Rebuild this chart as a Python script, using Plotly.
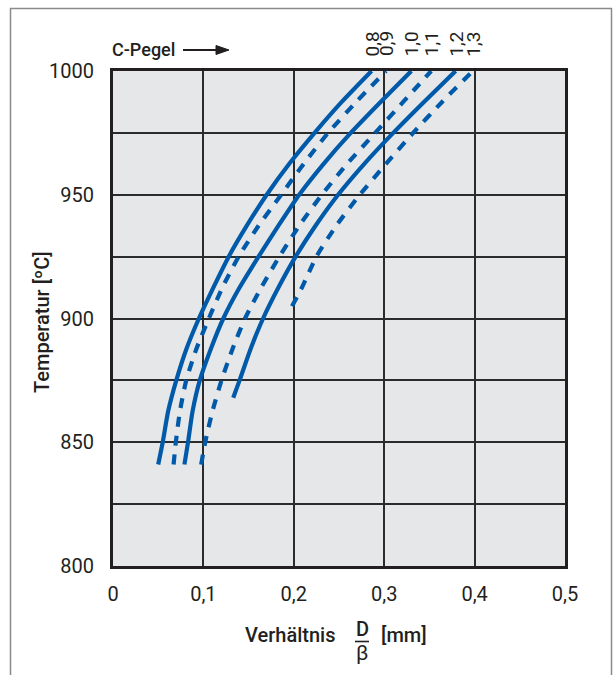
import plotly.graph_objects as go

# ---- data ----
c_levels = ["0,8", "0,9", "1,0", "1,1", "1,2", "1,3"]
dashed = [False, True, False, True, False, True]

temps_a = [841, 850, 862.5, 875, 887.5, 900, 912.5, 925, 937.5, 950, 962.5, 975, 987.5, 1000]
c08 = [0.050, 0.055, 0.061, 0.070, 0.081, 0.095, 0.111, 0.128, 0.148, 0.170, 0.195, 0.223, 0.253, 0.286]
c09 = [0.067, 0.0695, 0.074, 0.081, 0.092, 0.106, 0.121, 0.139, 0.161, 0.186, 0.211, 0.238, 0.269, 0.302]
c10 = [0.079, 0.083, 0.088, 0.096, 0.108, 0.122, 0.140, 0.161, 0.183, 0.206, 0.233, 0.263, 0.296, 0.330]
c11 = [0.0975, 0.102, 0.110, 0.120, 0.132, 0.146, 0.164, 0.184, 0.206, 0.231, 0.259, 0.290, 0.321, 0.352]
temps_12 = [868, 875, 887.5, 900, 912.5, 925, 937.5, 950, 962.5, 975, 987.5, 1000]
c12 = [0.133, 0.140, 0.152, 0.166, 0.183, 0.202, 0.224, 0.249, 0.278, 0.310, 0.344, 0.379]
temps_13 = [905, 912.5, 925, 937.5, 950, 962.5, 975, 987.5, 1000]
c13 = [0.198, 0.209, 0.225, 0.247, 0.273, 0.302, 0.332, 0.364, 0.398]

x_ticks = [0, 0.1, 0.2, 0.3, 0.4, 0.5]
x_ticktext = ["0", "0,1", "0,2", "0,3", "0,4", "0,5"]
y_ticks = [800, 825, 850, 875, 900, 925, 950, 975, 1000]
y_ticktext = ["800", "", "850", "", "900", "", "950", "", "1000"]

series_x = [c08, c09, c10, c11, c12, c13]
series_t = [temps_a, temps_a, temps_a, temps_a, temps_12, temps_13]

BLUE = "#005aa9"
INK = "#231f20"
FONT = "Roboto, Liberation Sans, sans-serif"
W, H = 614, 675
L, R, T, B = 113, 49, 71, 109
PW, PH = W - L - R, H - T - B


def px(x):
    return (x - L) / PW


def py(y):
    return (H - B - y) / PH


fig = go.Figure()
for xs, ts, d, lab in zip(series_x, series_t, dashed, c_levels):
    fig.add_trace(go.Scatter(
        x=xs, y=ts, mode="lines", name=lab,
        line=dict(color=BLUE, width=4.2, shape="spline", smoothing=0.6,
                  dash="10px,9px" if d else "solid"),
        hoverinfo="skip", showlegend=False,
    ))

title_font = dict(family=FONT, size=20, color=INK, weight=500)
annotations = []
# C-level labels above curve tops
for xs, lab in zip(series_x, c_levels):
    annotations.append(dict(
        x=xs[-1], y=py(44), xref="x", yref="paper", text=lab, textangle=-90,
        showarrow=False, font=dict(family=FONT, size=19, color=INK),
        xanchor="center", yanchor="middle"))

annotations += [
    dict(x=px(110), y=py(50), xref="paper", yref="paper", text="C-Pegel",
         showarrow=False, xanchor="left", yanchor="middle",
         font=dict(family=FONT, size=18, color=INK, weight=500)),
    dict(x=px(42), y=py(322), xref="paper", yref="paper", text="Temperatur [ºC]",
         textangle=-90, showarrow=False, xanchor="center", yanchor="middle",
         font=title_font),
    dict(x=px(337), y=py(635), xref="paper", yref="paper", text="Verhältnis",
         showarrow=False, xanchor="right", yanchor="middle", font=title_font),
    dict(x=px(362), y=py(629), xref="paper", yref="paper", text="D",
         showarrow=False, xanchor="center", yanchor="middle", font=title_font),
    dict(x=px(362), y=py(653), xref="paper", yref="paper", text="β",
         showarrow=False, xanchor="center", yanchor="middle",
         font=dict(family=FONT, size=21, color=INK)),
    dict(x=px(379), y=py(635), xref="paper", yref="paper", text="[mm]",
         showarrow=False, xanchor="left", yanchor="middle", font=title_font),
]

shapes = [
    # outer frame
    dict(type="rect", xref="paper", yref="paper", x0=px(10.5), x1=px(611.5),
         y0=py(690), y1=py(8.5), line=dict(color="#8a8a8a", width=1.5), layer="below"),
    # arrow after C-Pegel
    dict(type="line", xref="paper", yref="paper", x0=px(183), x1=px(218),
         y0=py(50), y1=py(50), line=dict(color=INK, width=2)),
    dict(type="path", xref="paper", yref="paper",
         path=f"M {px(216)} {py(45.5)} L {px(229)} {py(50)} L {px(216)} {py(54.5)} Z",
         fillcolor=INK, line=dict(color=INK, width=1)),
    # fraction bar
    dict(type="line", xref="paper", yref="paper", x0=px(355), x1=px(369),
         y0=py(641.5), y1=py(641.5), line=dict(color=INK, width=1.6)),
]

fig.update_layout(
    width=W, height=H,
    margin=dict(l=L, r=R, t=T, b=B),
    paper_bgcolor="white", plot_bgcolor="#e6e7e9",
    font=dict(family=FONT, size=20, color=INK),
    annotations=annotations, shapes=shapes,
    showlegend=False,
)
tick_font = dict(family=FONT, size=20, color=INK)
fig.update_xaxes(
    range=[0, 0.5], tickvals=x_ticks, ticktext=x_ticktext,
    showgrid=True, gridcolor="#2b2b2b", gridwidth=1.5,
    showline=True, linecolor=INK, linewidth=3, mirror=True,
    ticks="outside", ticklen=8, tickcolor="rgba(0,0,0,0)",
    zeroline=False, tickfont=tick_font,
)
fig.update_yaxes(
    range=[800, 1000], tickvals=y_ticks, ticktext=y_ticktext,
    showgrid=True, gridcolor="#2b2b2b", gridwidth=1.5,
    showline=True, linecolor=INK, linewidth=3, mirror=True,
    ticks="outside", ticklen=12, tickcolor="rgba(0,0,0,0)",
    zeroline=False, tickfont=tick_font,
)

fig.write_html("out.html")
